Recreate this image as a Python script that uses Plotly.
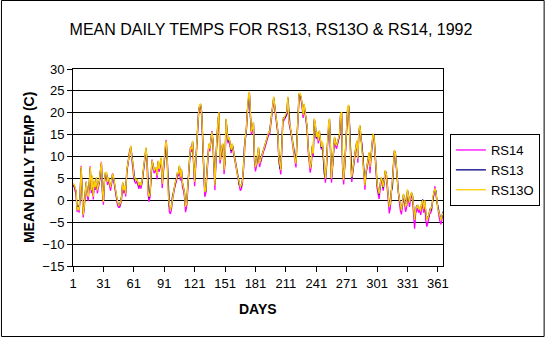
import plotly.graph_objects as go

days = list(range(1, 367))
x_tick_vals = [1, 31, 61, 91, 121, 151, 181, 211, 241, 271, 301, 331, 361]
x_tick_text = [str(v) for v in x_tick_vals]
y_tick_vals = [-15, -10, -5, 0, 5, 10, 15, 20, 25, 30]

rs13o = [
    3.5, 3.8, 3.0, 2.3, -2.3, -1.5, -2.3, 0.8, 7.7, -0.8,
    -3.4, -1.5, 1.5, 4.2, 1.5, 0.8, 3.8, 7.6, 2.3, 5.7,
    0.8, 4.5, 3.0, 5.3, 2.3, 3.4, 4.5, 6.8, 8.7, 2.3,
    -0.4, 4.5, 6.4, 6.4, 4.2, 5.3, 3.8, 3.0, 4.2, 6.1,
    5.3, 3.8, 3.0, 0.8, -0.4, -1.1, -1.1, -0.4, 0.8, 4.2,
    2.3, 3.4, 1.5, 6.8, 8.3, 10.2, 11.4, 12.5, 9.8, 8.7,
    5.7, 4.9, 4.5, 4.9, 3.8, 3.4, 4.2, 3.4, 4.2, 6.4,
    8.7, 10.6, 12.1, 9.1, 2.3, 0.8, 1.5, 6.1, 9.1, 8.0,
    6.8, 7.2, 7.6, 5.7, 9.1, 7.2, 8.3, 9.8, 3.8, 6.8,
    9.1, 12.5, 13.6, 9.1, 1.1, -1.5, -2.3, -1.5, 0.4, 2.3,
    3.0, 4.2, 4.9, 6.4, 6.1, 8.0, 5.3, 7.2, 3.8, 3.0,
    1.5, -1.5, -0.8, 2.3, 7.6, 9.5, 12.1, 11.7, 13.6, 9.1,
    4.2, 8.5, 12.5, 17.4, 20.5, 21.8, 22.1, 19.8, 12.2, 6.9,
    1.9, 2.3, 6.1, 9.9, 13.0, 11.8, 14.5, 15.6, 13.7, 6.9,
    3.4, 9.9, 14.5, 18.3, 20.2, 9.2, 10.7, 12.6, 13.0, 6.9,
    9.2, 18.7, 15.6, 13.7, 14.5, 12.6, 11.5, 13.0, 11.8, 10.3,
    9.5, 7.6, 6.1, 5.0, 3.8, 3.1, 3.4, 4.2, 6.9, 12.2,
    14.5, 16.4, 20.6, 23.7, 24.8, 19.1, 15.6, 16.4, 17.9, 9.9,
    7.6, 8.4, 10.7, 12.2, 8.4, 9.2, 10.3, 10.7, 11.8, 12.2,
    13.0, 13.7, 14.5, 15.6, 15.6, 17.9, 19.5, 22.1, 23.7, 21.4,
    19.1, 16.8, 16.0, 9.9, 7.6, 6.9, 12.2, 18.7, 18.7, 19.1,
    19.5, 20.2, 23.7, 18.3, 17.2, 16.0, 14.5, 12.6, 10.7, 9.2,
    8.4, 14.5, 20.6, 24.4, 24.4, 23.7, 22.1, 19.5, 22.1, 20.6,
    18.3, 16.8, 11.8, 9.9, 7.3, 8.4, 12.6, 10.7, 18.7, 17.6,
    14.5, 15.6, 13.7, 16.0, 13.7, 12.2, 13.4, 9.9, 6.1, 5.0,
    7.8, 13.0, 17.2, 18.7, 12.0, 5.0, 8.0, 10.7, 14.5, 13.0,
    12.5, 13.4, 14.5, 15.3, 19.8, 20.2, 7.6, 4.6, 8.0, 11.8,
    16.0, 21.4, 21.8, 14.5, 8.0, 5.3, 6.9, 9.0, 10.7, 12.2,
    13.7, 9.5, 16.0, 17.2, 14.5, 13.4, 9.9, 6.9, 3.4, 6.5,
    7.6, 9.2, 11.0, 7.6, 10.0, 13.0, 15.3, 14.5, 10.3, 7.6,
    3.8, 2.5, 1.5, 3.4, 5.3, 4.6, 3.0, 4.5, 6.9, 6.1,
    3.8, 0.8, -1.5, -0.8, 2.0, 3.0, 7.0, 11.5, 10.7, 8.0,
    4.0, 1.5, 0.4, -1.5, -2.3, -0.5, 1.5, 0.5, -1.5, -1.0,
    2.5, 0.8, -0.5, 1.0, 1.9, 0.8, -2.5, -4.5, -2.0, -1.5,
    -1.0, -2.0, -1.5, -2.5, -0.5, 0.0, -2.0, 0.0, -3.0, -4.5,
    -4.0, -3.5, -2.3, -2.0, -1.5, 0.8, 1.5, 2.7, 2.0, -0.5,
    -2.0, -2.8, -3.8, -4.6, -3.5, -2.8,
]

rs13 = [
    3.3, 3.6, 2.8, 2.1, -2.0, -1.2, -2.1, 1.0, 7.4, -0.5,
    -3.2, -1.3, 1.7, 4.0, 1.7, 1.0, 3.6, 7.3, 2.5, 5.5,
    1.1, 4.3, 3.2, 5.1, 2.5, 3.2, 4.3, 6.6, 8.4, 2.5,
    -0.2, 4.3, 6.2, 6.2, 4.4, 5.1, 4.0, 3.2, 4.0, 5.9,
    5.1, 3.6, 3.2, 1.0, -0.6, -0.9, -1.3, -0.2, 1.0, 4.0,
    2.5, 3.2, 1.7, 6.6, 8.5, 10.0, 11.2, 12.2, 10.0, 8.5,
    5.9, 4.7, 4.7, 4.7, 4.0, 3.2, 4.0, 3.6, 4.0, 6.2,
    8.5, 10.4, 11.9, 9.3, 2.5, 0.6, 1.7, 5.9, 8.9, 8.2,
    7.0, 7.0, 7.4, 5.9, 8.9, 7.4, 8.1, 9.6, 4.0, 6.6,
    8.9, 12.3, 13.4, 9.3, 1.3, -1.3, -2.1, -1.7, 0.6, 2.1,
    3.2, 4.0, 5.1, 6.2, 6.3, 7.8, 5.5, 7.0, 4.0, 2.8,
    1.7, -1.3, -1.0, 2.5, 7.4, 9.3, 11.9, 11.9, 13.4, 9.3,
    4.4, 8.3, 12.3, 17.2, 20.7, 21.6, 21.9, 20.0, 12.0, 7.1,
    2.1, 2.1, 6.3, 9.7, 12.8, 12.0, 14.3, 15.4, 13.9, 7.1,
    3.6, 9.7, 14.3, 18.1, 20.0, 9.4, 10.5, 12.4, 12.8, 7.1,
    9.0, 18.5, 15.8, 13.5, 14.3, 12.8, 11.3, 12.8, 12.0, 10.1,
    9.3, 7.8, 5.9, 5.2, 3.6, 3.3, 3.2, 4.4, 6.7, 12.0,
    14.3, 16.2, 20.4, 23.5, 24.6, 19.3, 15.8, 16.2, 17.7, 10.1,
    7.8, 8.2, 10.5, 12.0, 8.6, 9.0, 10.1, 10.9, 11.6, 12.0,
    12.8, 13.5, 14.3, 15.4, 15.8, 17.7, 19.3, 21.9, 23.5, 21.6,
    19.3, 16.6, 15.8, 10.1, 7.4, 7.1, 12.0, 18.5, 18.9, 18.9,
    19.3, 20.0, 23.5, 18.5, 17.0, 15.8, 14.3, 12.4, 10.9, 9.0,
    8.6, 14.3, 20.4, 24.2, 24.2, 23.5, 21.9, 19.7, 21.9, 20.4,
    18.1, 16.6, 12.0, 9.7, 7.5, 8.2, 12.4, 10.9, 18.5, 17.4,
    14.3, 15.4, 13.9, 15.8, 13.9, 12.0, 13.2, 10.1, 5.9, 5.2,
    7.6, 12.8, 17.0, 18.5, 12.2, 5.2, 7.8, 10.5, 14.3, 13.2,
    12.7, 13.2, 14.3, 15.1, 19.6, 20.0, 7.8, 4.8, 7.8, 11.6,
    15.8, 21.2, 21.6, 14.7, 8.2, 5.1, 6.7, 9.2, 10.5, 12.0,
    13.5, 9.7, 15.8, 17.0, 14.7, 13.2, 10.1, 6.7, 3.6, 6.3,
    7.8, 9.0, 10.8, 7.8, 9.8, 12.8, 15.1, 14.7, 10.1, 7.8,
    3.6, 2.3, 1.3, 3.6, 5.1, 4.8, 2.8, 4.7, 6.7, 6.3,
    3.6, 1.0, -1.3, -1.0, 2.2, 2.8, 6.8, 11.3, 10.9, 7.8,
    3.8, 1.7, 0.2, -1.3, -2.1, -0.7, 1.3, 0.7, -1.3, -1.2,
    2.3, 1.0, -0.3, 0.8, 1.7, 1.0, -2.3, -4.3, -2.2, -1.3,
    -1.2, -1.8, -1.7, -2.3, -0.7, 0.2, -1.8, -0.2, -2.8, -4.3,
    -3.8, -3.7, -2.1, -2.2, -1.3, 0.6, 1.7, 2.5, 2.2, -0.3,
    -1.8, -2.6, -3.6, -4.4, -3.7, -2.6,
]

rs14 = [
    3.0, 3.4, 2.2, 1.4, -2.6, -1.8, -2.8, 0.3, 7.9, -1.2,
    -3.9, -2.0, 0.9, 4.3, 1.0, -0.2, 3.2, 7.8, 1.6, 5.5,
    0.2, 4.0, 2.4, 5.0, 1.6, 2.8, 4.0, 6.2, 8.8, 1.6,
    -1.0, 4.0, 6.0, 5.9, 3.5, 4.8, 3.1, 2.2, 3.7, 6.2,
    4.7, 3.1, 2.4, 0.2, -1.2, -1.6, -1.6, -0.9, 0.3, 3.8,
    1.6, 3.0, 0.9, 6.2, 7.8, 9.6, 11.6, 11.8, 9.2, 8.0,
    5.0, 4.2, 3.9, 4.4, 3.1, 2.6, 3.7, 2.7, 3.8, 6.0,
    8.2, 10.8, 11.4, 8.4, 1.5, -0.3, 0.8, 5.6, 9.3, 7.4,
    6.2, 6.6, 7.0, 4.8, 8.5, 6.5, 7.8, 9.2, 2.8, 6.2,
    8.5, 11.8, 13.8, 8.4, 0.3, -2.5, -3.1, -2.2, -0.2, 1.8,
    2.5, 3.6, 4.3, 5.8, 5.5, 7.4, 4.5, 6.6, 3.0, 2.2,
    0.7, -2.7, -1.6, 1.6, 7.0, 9.0, 12.3, 11.0, 13.0, 8.4,
    3.2, 7.8, 12.0, 16.8, 20.0, 21.2, 21.5, 19.0, 11.4, 6.0,
    0.8, 1.6, 5.5, 9.3, 12.4, 11.2, 14.0, 15.8, 13.0, 6.0,
    2.3, 9.3, 14.0, 17.8, 19.8, 8.4, 10.0, 12.0, 12.5, 6.0,
    8.5, 18.1, 15.0, 13.0, 14.0, 12.0, 10.8, 12.5, 11.2, 9.6,
    8.8, 7.0, 5.4, 4.2, 3.0, 2.2, 2.6, 3.6, 6.3, 11.6,
    14.0, 15.9, 20.0, 23.2, 24.2, 18.5, 15.0, 15.8, 17.2, 9.0,
    6.6, 7.8, 10.2, 11.6, 7.6, 8.6, 9.8, 10.2, 11.2, 11.7,
    12.5, 13.2, 14.0, 15.0, 15.0, 17.3, 19.0, 21.5, 23.0, 20.8,
    18.5, 16.2, 15.4, 9.2, 6.8, 5.9, 11.6, 18.0, 18.2, 18.6,
    19.0, 19.6, 23.0, 17.6, 16.6, 15.4, 14.0, 12.0, 10.0, 8.5,
    7.5, 14.0, 20.0, 23.4, 23.8, 23.0, 21.4, 18.8, 21.5, 20.0,
    17.6, 16.2, 11.2, 9.2, 6.3, 7.8, 12.0, 10.0, 18.2, 17.0,
    14.0, 15.0, 13.0, 15.6, 13.0, 11.6, 12.8, 9.2, 5.3, 4.0,
    7.2, 12.4, 16.6, 18.2, 11.4, 4.0, 7.4, 10.2, 14.0, 12.4,
    11.8, 12.8, 14.0, 14.8, 19.4, 19.6, 6.8, 3.6, 7.5, 11.3,
    15.5, 20.8, 21.2, 13.8, 7.2, 4.2, 6.3, 8.5, 10.2, 11.6,
    13.2, 8.6, 15.5, 16.8, 14.0, 12.8, 9.2, 6.0, 2.4, 6.0,
    7.0, 8.6, 10.5, 6.2, 9.5, 12.5, 14.8, 14.0, 9.6, 6.8,
    2.8, 1.5, 0.3, 2.8, 4.8, 3.8, 2.2, 4.0, 6.4, 5.5,
    3.0, -0.2, -3.0, -1.8, 1.4, 2.5, 6.5, 11.0, 10.2, 7.2,
    3.2, 0.6, -0.6, -2.4, -3.2, -1.4, 0.8, -0.4, -2.6, -1.8,
    2.0, 0.0, -1.5, 0.4, 1.4, -0.2, -4.0, -6.5, -3.0, -2.2,
    -1.8, -2.8, -2.2, -3.3, -1.2, -0.6, -2.8, -0.6, -4.5, -6.0,
    -5.2, -4.2, -3.0, -2.8, -2.0, 0.3, 1.2, 3.2, 1.5, -1.2,
    -2.8, -3.6, -4.8, -5.5, -4.2, -3.4,
]

series_names = ["RS14", "RS13", "RS13O"]
series_values = [rs14, rs13, rs13o]
series_colors = ["#FF00FF", "#000080", "#FFCC00"]

FONT = "Liberation Sans, Arial, sans-serif"

fig = go.Figure()
for name, vals, col in zip(series_names, series_values, series_colors):
    fig.add_trace(go.Scatter(x=days, y=vals, mode="lines", name=name,
                             line=dict(color=col, width=1.3)))

L, R, T, B = 73, 448, 69, 266
W, H = 552, 338
pw, ph = R - L, B - T

def px(x):
    return (x - L) / pw

def py(y):
    return (B - y) / ph

fig.update_layout(
    width=W, height=H,
    margin=dict(l=L, r=W - R, t=T, b=H - B, pad=0),
    paper_bgcolor="white", plot_bgcolor="white",
    font=dict(family=FONT, size=13, color="black"),
    title=dict(text="MEAN DAILY TEMPS FOR RS13, RS13O & RS14, 1992",
               x=271 / W, xref="container", xanchor="center",
               y=1 - 29.5 / H, yref="container", yanchor="middle",
               font=dict(family=FONT, size=16, color="black")),
    showlegend=True,
    legend=dict(x=px(455), y=py(134), xanchor="left", yanchor="top",
                bordercolor="black", borderwidth=1, bgcolor="white",
                font=dict(family=FONT, size=13, color="black"),
                itemwidth=30, tracegroupgap=0),
    xaxis=dict(range=[1, 366], tickmode="array", tickvals=x_tick_vals,
               ticktext=x_tick_text, showgrid=False, zeroline=False,
               showline=True, linecolor="black", linewidth=1, mirror=True,
               ticks="outside", ticklen=5, tickcolor="black", tickwidth=1,
               tickfont=dict(family=FONT, size=13, color="black")),
    yaxis=dict(range=[-15, 30], tickmode="array", tickvals=y_tick_vals,
               showgrid=True, gridcolor="black", gridwidth=1,
               zeroline=False, showline=True, linecolor="black",
               linewidth=1, mirror=True, ticks="outside", ticklen=5,
               tickcolor="black", tickwidth=1,
               tickfont=dict(family=FONT, size=13, color="black")),
    annotations=[
        dict(text="<b>DAYS</b>", x=0.5, y=py(309), xref="paper", yref="paper",
             xanchor="center", yanchor="middle", showarrow=False,
             font=dict(family=FONT, size=14, color="black")),
        dict(text="<b>MEAN DAILY TEMP (C)</b>", x=px(28), y=py(167.5),
             xref="paper", yref="paper", xanchor="center", yanchor="middle",
             textangle=-90, showarrow=False,
             font=dict(family=FONT, size=14, color="black")),
    ],
    shapes=[
        dict(type="rect", xref="paper", yref="paper",
             x0=px(0.5), x1=px(W - 1.5), y0=py(H - 1.5), y1=py(0.5),
             line=dict(color="black", width=1), fillcolor="rgba(0,0,0,0)",
             layer="above"),
    ],
)

fig.write_html("out.html")
